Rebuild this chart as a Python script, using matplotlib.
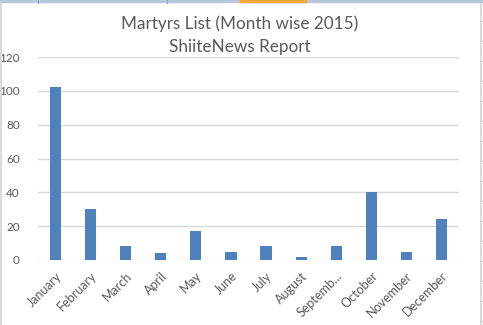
import matplotlib
matplotlib.use("Agg")
import matplotlib.pyplot as plt
from matplotlib.lines import Line2D

months = ["January", "February", "March", "April", "May", "June", "July",
          "August", "Septemb...", "October", "November", "December"]
martyrs = [102, 30, 8, 4, 17, 5, 8, 2, 8, 40, 5, 24]
y_ticks = [0, 20, 40, 60, 80, 100, 120]

W, H = 483, 325
fig = plt.figure(figsize=(W / 100, H / 100), dpi=100)
fig.patch.set_facecolor("white")
plt.rcParams["font.family"] = ["Lato", "DejaVu Sans"]

ax = fig.add_axes([38 / W, 1 - 260 / H, (459 - 38) / W, (260 - 57) / H])
x = range(len(months))
ax.bar(x, martyrs, width=0.32, color="#4f81bd", zorder=3)
ax.set_xlim(-0.5, len(months) - 0.5)
ax.set_ylim(0, 120)
ax.set_yticks(y_ticks)
ax.set_yticklabels([str(v) for v in y_ticks], color="#595959", fontsize=8.5)
ax.set_xticks(list(x))
ax.set_xticklabels(months, rotation=45, ha="right", rotation_mode="anchor",
                   color="#595959", fontsize=9)
ax.tick_params(axis="both", length=0)
ax.tick_params(axis="y", pad=13)
ax.tick_params(axis="x", pad=7)
ax.grid(axis="y", color="#d9d9d9", linewidth=1, zorder=0)
for s in ax.spines.values():
    s.set_visible(False)

fig.text(240 / W, 1 - 24 / H, "Martyrs List (Month wise 2015)", ha="center",
         va="center", fontsize=12.3, color="#595959")
fig.text(240 / W, 1 - 47 / H, "ShiiteNews Report", ha="center",
         va="center", fontsize=12.3, color="#595959")

# spreadsheet frame around the chart object
fig.add_artist(Line2D([0, 1], [1 - 1 / H, 1 - 1 / H], color="#b8c8dc", lw=2.5))
for px in (38, 167):
    fig.add_artist(Line2D([px / W, px / W], [1 - 3 / H, 1], color="#8fa6c2", lw=0.8))
fig.add_artist(Line2D([241 / W, 305 / W], [1 - 1 / H, 1 - 1 / H], color="#f2a93b", lw=2.5))
fig.add_artist(Line2D([0.5 / W, 0.5 / W], [0, 1 - 3 / H], color="#d4d4d4", lw=1.2))
fig.add_artist(Line2D([480.5 / W, 480.5 / W], [0, 1 - 3 / H], color="#d4d4d4", lw=1.2))
for py in range(21, H, 20):
    fig.add_artist(Line2D([481 / W, 1], [1 - py / H, 1 - py / H], color="#d4d4d4", lw=1))

fig.savefig("out.png", dpi=100)
